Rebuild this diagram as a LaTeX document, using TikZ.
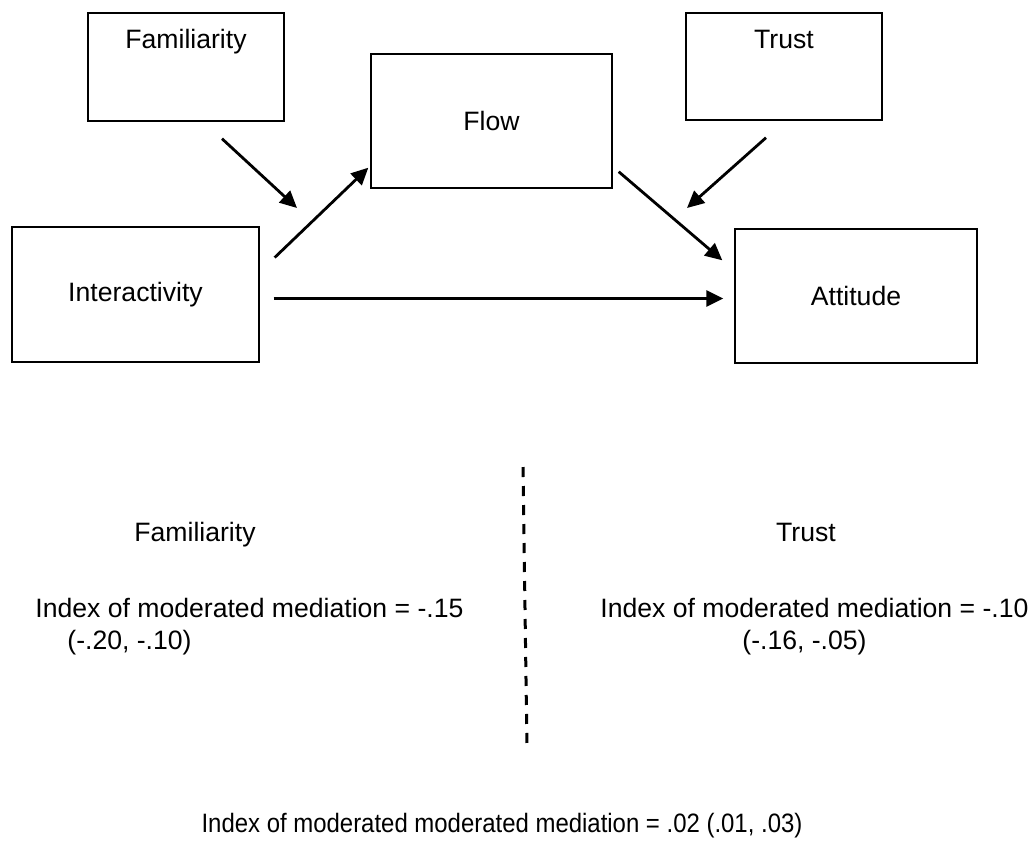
\documentclass[tikz,border=0pt]{standalone}
\usepackage{fontspec}
\setmainfont{Liberation Sans}
\usepackage{graphicx}
\usetikzlibrary{arrows.meta}

\begin{document}
\begin{tikzpicture}[x=0.5pt, y=-0.5pt,
        font=\fontsize{13.3}{16}\selectfont,
        box/.style={draw, line width=0.7pt, inner sep=0pt},
        arrow/.style={line width=1.4pt, -{Triangle[length=8.5pt,width=8pt]}},
        txt/.style={anchor=base west, inner sep=0pt}]
        \useasboundingbox (0,0) rectangle (1032,852);

        % model
        \node[box, minimum width=98pt, minimum height=54pt,
              label={[anchor=base, yshift=-18pt]north:Familiarity}] (familiarity) at (186,67) {};
        \node[box, minimum width=98pt, minimum height=53.5pt,
              label={[anchor=base, yshift=-18pt]north:Trust}] (trust) at (784,66.5) {};
        \node[box, minimum width=120.5pt, minimum height=67pt] (flow) at (491.5,121) {Flow};
        \node[box, minimum width=123.5pt, minimum height=67.5pt] (interactivity) at (135.5,294.5) {Interactivity};
        \node[box, minimum width=121pt, minimum height=67pt] (attitude) at (856,296) {Attitude};

        \coordinate (famtip) at (297,208);
        \coordinate (trusttip) at (687,208);

        \draw[arrow] ([shift={(36,17)}]familiarity.south) -- (famtip);
        \draw[arrow] ([shift={(-18,17)}]trust.south) -- (trusttip);
        \draw[arrow] ([shift={(15,-37)}]interactivity.east) -- ([shift={(-2,-21)}]flow.south west);
        \draw[arrow] ([shift={(6,-17)}]flow.south east) -- ([shift={(-12,32)}]attitude.north west);
        \draw[arrow] ([shift={(14,4)}]interactivity.east) -- ([shift={(-11,2.5)}]attitude.west);

        % indices
        \draw[line width=1.5pt, dash pattern=on 5pt off 4.5pt] (523,467) -- (527,750);

        \node[anchor=base] (famhead) at (195,541) {Familiarity};
        \node[anchor=base] (trusthead) at (806,541) {Trust};
        \node[txt] (famindex) at (35,617) {Index of moderated mediation = -.15};
        \node[txt] (famci) at (67,649) {(-.20, -.10)};
        \node[txt] (trustindex) at (600,617) {Index of moderated mediation = -.10};
        \node[txt] (trustci) at (742,649) {(-.16, -.05)};
        \node[anchor=base] (total) at (502,832) {\scalebox{0.9}[1]{Index of moderated moderated mediation = .02 (.01, .03)}};
    \end{tikzpicture}
\end{document}
